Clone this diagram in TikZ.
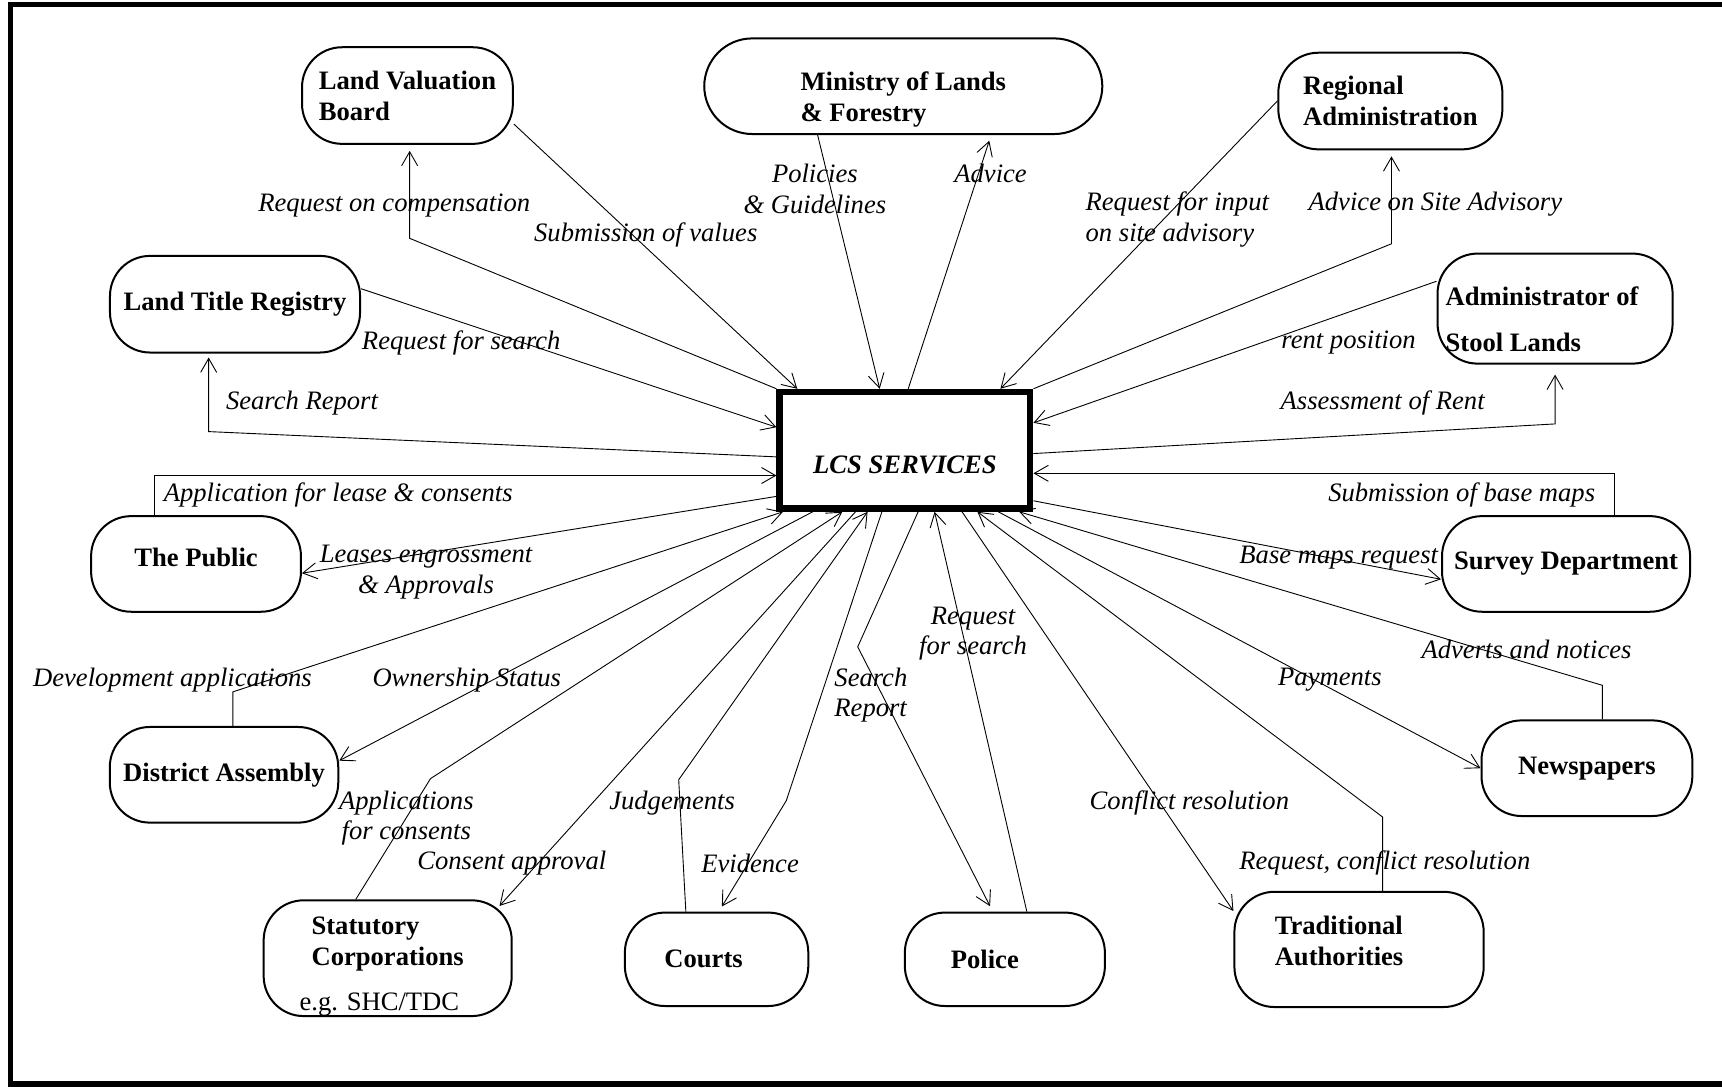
\documentclass[tikz,border=0pt]{standalone}
\usepackage{fontspec}
\setmainfont{Liberation Serif}
\usetikzlibrary{arrows.meta, calc}

\newcommand{\figfont}{\fontsize{13.3}{15.4}\selectfont}

\begin{document}
\begin{tikzpicture}[
    x=0.549pt, y=-0.549pt,
    >={Straight Barb[length=7pt, width=8pt]},
    ent/.style={draw, line width=1pt, rounded corners=20pt, align=left, font=\figfont\bfseries},
    core/.style={draw, line width=3.3pt, minimum width=125.2pt, minimum height=58.2pt, font=\figfont\bfseries\itshape},
    lbl/.style={inner sep=0pt, font=\figfont\itshape},
    flow/.style={line width=0.45pt}
]
    \useasboundingbox (0,0) rectangle (1568,989);
    \draw[line width=2.8pt] (1575,4) -- (9.5,4) -- (9.5,987) -- (1575,987);

    % boxes
    \node[ent, minimum width=105.4pt, minimum height=48.3pt] (lvb) at (371,87) {Land Valuation\\Board};
    \node[ent, rounded corners=24pt, minimum width=199pt, minimum height=47.8pt, inner ysep=1pt, text height=38.2pt] (min) at (822.5,78.5) {Ministry of Lands\\\& Forestry};
    \node[ent, minimum width=112pt, minimum height=48.3pt] (reg) at (1266,92) {Regional\\Administration};
    \node[ent, minimum width=125pt, minimum height=48.3pt] (ltr) at (214,277) {Land Title Registry};
    \node[ent, minimum width=117.5pt, minimum height=55pt, inner ysep=1pt, text height=43.4pt] (asl) at (1416,281) {Administrator of\hspace*{13pt}\\[8pt]Stool Lands};
    \node[core, text height=23pt, text depth=0pt] (lcs) at (824,410) {LCS SERVICES};
    \node[ent, minimum width=104.9pt, minimum height=47.8pt, text depth=6.6pt] (pub) at (178.5,513.5) {The Public};
    \node[ent, minimum width=124pt, minimum height=47.8pt] (sur) at (1426,513.5) {Survey Department};
    \node[ent, minimum width=114.2pt, minimum height=47.8pt] (dis) at (204,705.5) {District Assembly};
    \node[ent, minimum width=105.4pt, minimum height=47.8pt] (news) at (1445,699.5) {Newspapers};
    \node[ent, minimum width=124pt, minimum height=57.6pt, inner ysep=0pt, text height=55pt] (stat) at (353,872.5) {Statutory\\Corporations\\[7pt]\hspace*{-6pt}\mdseries e.g. SHC/TDC};
    \node[ent, minimum width=91.7pt, minimum height=46.7pt] (court) at (652.5,873.5) {Courts\hspace*{13pt}};
    \node[ent, minimum width=100pt, minimum height=46.7pt] (pol) at (915,873.5) {Police\hspace*{20pt}};
    \node[ent, minimum width=124.6pt, minimum height=57.6pt, inner ysep=1pt, text depth=8.8pt] (trad) at (1237.5,864.5) {Traditional\\Authorities\hspace*{20pt}};

    % labels
    \node[lbl] (t1) at (359,187) {Request on compensation};
    \node[lbl] (t2) at (588,214) {Submission of values};
    \node[lbl, align=center] (t3) at (742,172) {Policies\\\& Guidelines};
    \node[lbl] (t4) at (902,158) {Advice};
    \node[lbl, align=left] (t5) at (1072,200) {Request for input\\on site advisory};
    \node[lbl] (t6) at (1307,186) {Advice on Site Advisory};
    \node[lbl] (t7) at (420,312) {Request for search};
    \node[lbl] (t8) at (1228,312) {rent position};
    \node[lbl] (t9) at (275,367) {Search Report};
    \node[lbl] (t10) at (1259,367) {Assessment of Rent};
    \node[lbl] (t11) at (308,451) {Application for lease \& consents};
    \node[lbl] (t12) at (1331,451) {Submission of base maps};
    \node[lbl, align=center] (t13) at (388,521) {Leases engrossment\\\& Approvals};
    \node[lbl] (t14) at (1219,508) {Base maps request};
    \node[lbl, align=center] (t15) at (886,577) {Request\\for search};
    \node[lbl] (t16) at (157,619) {Development applications};
    \node[lbl] (t17) at (425,619) {Ownership Status};
    \node[lbl, align=left] (t18) at (793,633) {Search\\Report};
    \node[lbl] (t19) at (1211,619) {Payments};
    \node[lbl] (t20) at (1390,591) {Adverts and notices};
    \node[lbl, align=center] (t21) at (370,745) {Applications\\for consents};
    \node[lbl] (t22) at (612,731) {Judgements};
    \node[lbl] (t23) at (1083,731) {Conflict resolution};
    \node[lbl] (t24) at (466,786) {Consent approval};
    \node[lbl] (t25) at (683,786) {Evidence};
    \node[lbl] (t26) at (1261,786) {Request, conflict resolution};

    % bends
    \coordinate (rc) at (373,217);
    \coordinate (ra) at (1267,222);
    \coordinate (ar) at (1416,386);
    \coordinate (sr) at (190,393);
    \coordinate (ap) at (141,433);
    \coordinate (sb) at (1470,431);
    \coordinate (an) at (1459,624);
    \coordinate (rq) at (1259,744);
    \coordinate (sp) at (781,589);
    \coordinate (ev) at (716,729);
    \coordinate (jd) at (618,710);
    \coordinate (af) at (392,709);
    \coordinate (dv) at (212,630);

    % land valuation board
    \draw[flow,->] (lvb.-15) -- ($(lcs.north west)+(19,0)$);
    \draw[flow,->,shorten >=3pt] (lcs.north west) -- (rc) -- (rc |- lvb.south);
    % ministry
    \draw[flow,->] ($(min.south)+(-78,0)$) -- ($(lcs.north)+(-23,0)$);
    \draw[flow,->,shorten >=3pt] ($(lcs.north)+(3,0)$) -- ($(min.south)+(80,0)$);
    % regional administration
    \draw[flow,->] (reg.west) -- ($(lcs.north)+(87,0)$);
    \draw[flow,->,shorten >=3pt] (lcs.north east) -- (ra) -- (ra |- reg.south);
    % stool lands
    \draw[flow,->] (asl.167) -- ($(lcs.east)+(0,-25)$);
    \draw[flow,->,shorten >=5pt] ($(lcs.east)+(0,3)$) -- (ar) -- (ar |- asl.south);
    % land title registry
    \draw[flow,->] (ltr.7) -- ($(lcs.west)+(0,-21)$);
    \draw[flow,->,shorten >=2pt] ($(lcs.west)+(0,6)$) -- (sr) -- (sr |- ltr.south);
    % public
    \draw[flow,->] (ap |- pub.north) -- (ap) -- (ap -| lcs.west);
    \draw[flow,->] ($(lcs.west)+(0,42)$) -- (pub.-5);
    % survey
    \draw[flow,->] (sb |- sur.north) -- (sb) -- (sb -| lcs.east);
    \draw[flow,->] ($(lcs.east)+(0,46)$) -- (sur.187);
    % newspapers
    \draw[flow,->] (an |- news.north) -- (an) -- ($(lcs.south east)+(-13,0)$);
    \draw[flow,->] ($(lcs.south east)+(-32,0)$) -- (news.west);
    % traditional authorities
    \draw[flow,->] (rq |- trad.north) -- (rq) -- ($(lcs.south)+(66,0)$);
    \draw[flow,->] ($(lcs.south)+(52,0)$) -- (trad.163);
    % police
    \draw[flow,->] ($(pol.north)+(20,0)$) -- ($(lcs.south)+(27,0)$);
    \draw[flow,->,shorten >=3pt] ($(lcs.south)+(12,0)$) -- (sp) -- ($(pol.north)+(-11,0)$);
    % courts
    \draw[flow,->,shorten >=3pt] ($(lcs.south)+(-21,0)$) -- (ev) -- ($(court.north)+(2,0)$);
    \draw[flow,->] ($(court.north)+(-28,0)$) -- (jd) -- ($(lcs.south)+(-34,0)$);
    % statutory corporations
    \draw[flow,->] ($(lcs.south)+(-45,0)$) -- ($(stat.north east)+(-12,6)$);
    \draw[flow,->] ($(stat.north)+(-29,0)$) -- (af) -- ($(lcs.south)+(-57,0)$);
    % district assembly
    \draw[flow,->] ($(lcs.south)+(-84,0)$) -- (dis.7);
    \draw[flow,->] ($(dis.north)+(8,0)$) -- (dv) -- ($(lcs.south west)+(6,0)$);
\end{tikzpicture}
\end{document}
